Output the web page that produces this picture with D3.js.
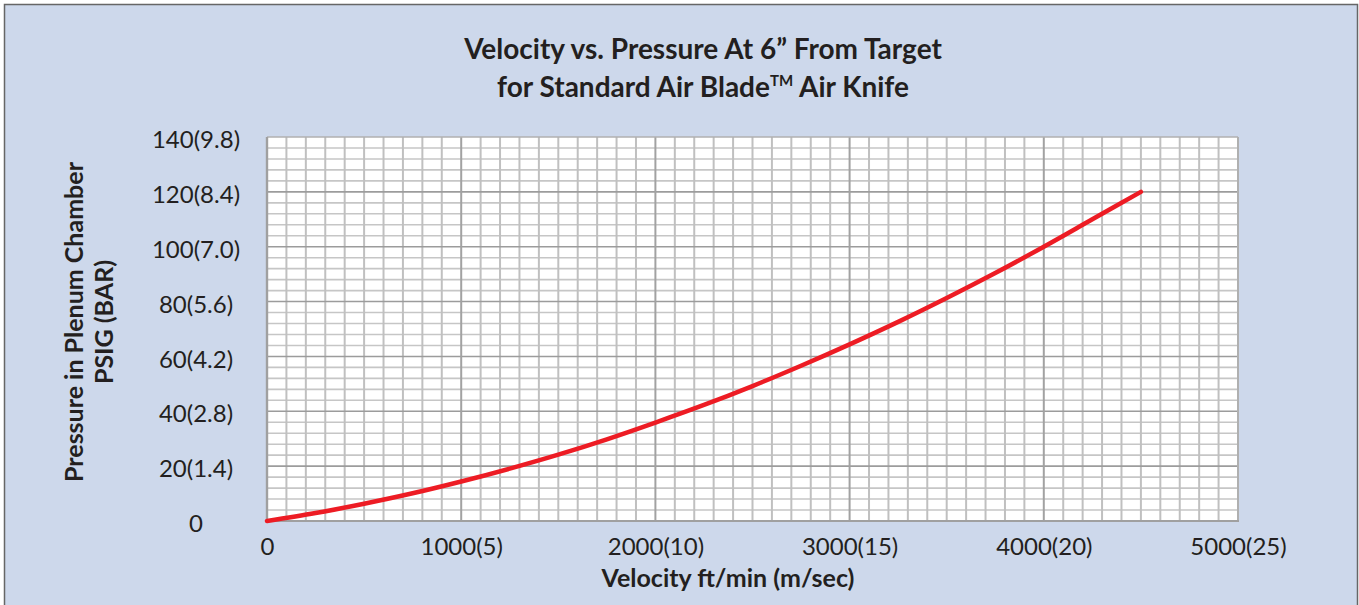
<!DOCTYPE html>
<html>
<head>
<meta charset="utf-8">
<script src="https://cdn.jsdelivr.net/npm/d3@7/dist/d3.min.js"></script>
<style>
  html, body { margin: 0; padding: 0; background: #ffffff; }
  svg { display: block; }
</style>
</head>
<body>
<svg id="chart" width="1359" height="605"></svg>
<script>
// ---- data ----
const velocity = [0, 250, 500, 750, 1000, 1250, 1500, 1750, 2000, 2250, 2500, 2750, 3000, 3250, 3500, 3750, 4000, 4250, 4500];
const pressure = [0, 2.9, 6.3, 10.1, 14.4, 19.1, 24.2, 29.8, 35.9, 42.3, 49.2, 56.6, 64.4, 72.6, 81.3, 90.4, 100, 110, 120];

const xTickValues = [0, 1000, 2000, 3000, 4000, 5000];
const xTickLabels = ["0", "1000(5)", "2000(10)", "3000(15)", "4000(20)", "5000(25)"];
const yTickValues = [0, 20, 40, 60, 80, 100, 120, 140];
const yTickLabels = ["0", "20(1.4)", "40(2.8)", "60(4.2)", "80(5.6)", "100(7.0)", "120(8.4)", "140(9.8)"];
const xMinorStep = 100;
const yMinorStep = 4;

const titleLine1 = "Velocity vs. Pressure At 6\u201D From Target";
const titleLine2a = "for Standard Air Blade";
const titleTM = "TM";
const titleLine2b = " Air Knife";
const xTitle = "Velocity ft/min (m/sec)";
const yTitle1 = "Pressure in Plenum Chamber";
const yTitle2 = "PSIG (BAR)";

// ---- layout ----
const W = 1359, H = 605;
const plot = { left: 267, right: 1238, top: 137, bottom: 521 };
const svg = d3.select("#chart");
const FONT = "Lato, 'Open Sans', sans-serif";
const TXT = "#231f20";

// background + frame
svg.append("rect").attr("x", 0).attr("y", 0).attr("width", W).attr("height", H).attr("fill", "#ffffff");
svg.append("rect").attr("x", 4.5).attr("y", 4.5).attr("width", 1353).attr("height", 610)
  .attr("fill", "#cdd8eb").attr("stroke", "#666666").attr("stroke-width", 1.5);

const x = d3.scaleLinear().domain([0, 5000]).range([plot.left, plot.right]);
const y = d3.scaleLinear().domain([0, 140]).range([plot.bottom, plot.top]);

// plot background
svg.append("rect").attr("x", plot.left).attr("y", plot.top)
  .attr("width", plot.right - plot.left).attr("height", plot.bottom - plot.top)
  .attr("fill", "#ffffff");

// minor grid
const xMinor = d3.range(0, 5000 + 1, xMinorStep).filter(v => v % 1000 !== 0);
const yMinor = d3.range(0, 140 + 1, yMinorStep).filter(v => v % 20 !== 0);
const grid = svg.append("g");
grid.selectAll("line.hmin").data(yMinor).join("line")
  .attr("x1", plot.left).attr("x2", plot.right)
  .attr("y1", d => y(d)).attr("y2", d => y(d))
  .attr("stroke", "#c6c6c6").attr("stroke-width", 1.6);
grid.selectAll("line.vmin").data(xMinor).join("line")
  .attr("y1", plot.top).attr("y2", plot.bottom)
  .attr("x1", d => x(d)).attr("x2", d => x(d))
  .attr("stroke", "#c0c0c0").attr("stroke-width", 2);
// major grid
grid.selectAll("line.hmaj").data(yTickValues.filter(v => v > 0 && v < 140)).join("line")
  .attr("x1", plot.left).attr("x2", plot.right)
  .attr("y1", d => y(d)).attr("y2", d => y(d))
  .attr("stroke", "#9c9c9c").attr("stroke-width", 1.6);
grid.selectAll("line.vmaj").data(xTickValues.filter(v => v > 0 && v < 5000)).join("line")
  .attr("y1", plot.top).attr("y2", plot.bottom)
  .attr("x1", d => x(d)).attr("x2", d => x(d))
  .attr("stroke", "#a2a2a2").attr("stroke-width", 2);

// plot border
svg.append("line").attr("x1", plot.left).attr("x2", plot.right).attr("y1", plot.top).attr("y2", plot.top)
  .attr("stroke", "#b0b0b0").attr("stroke-width", 1.5);
svg.append("line").attr("x1", plot.right).attr("x2", plot.right).attr("y1", plot.top).attr("y2", plot.bottom)
  .attr("stroke", "#b0b0b0").attr("stroke-width", 2);
svg.append("line").attr("x1", plot.left - 1).attr("x2", plot.right + 1).attr("y1", plot.bottom).attr("y2", plot.bottom)
  .attr("stroke", "#a0a0a0").attr("stroke-width", 2.2);
svg.append("line").attr("x1", plot.left).attr("x2", plot.left).attr("y1", plot.top).attr("y2", plot.bottom + 1)
  .attr("stroke", "#a0a0a0").attr("stroke-width", 2.4);

// axes (labels only)
const xAxis = d3.axisBottom(x).tickValues(xTickValues)
  .tickFormat((d, i) => xTickLabels[i]).tickSize(0).tickPadding(0);
const gx = svg.append("g").attr("transform", `translate(0,${plot.bottom})`).call(xAxis);
gx.select(".domain").remove();
gx.selectAll("text").attr("font-family", FONT).attr("font-size", 24).attr("fill", TXT)
  .attr("dy", null).attr("y", 34);

const yAxis = d3.axisLeft(y).tickValues(yTickValues)
  .tickFormat((d, i) => yTickLabels[i]).tickSize(0).tickPadding(0);
const gy = svg.append("g").attr("transform", `translate(${plot.left},0)`).call(yAxis);
gy.select(".domain").remove();
gy.selectAll("text").attr("font-family", FONT).attr("font-size", 24).attr("fill", TXT)
  .attr("text-anchor", "middle").attr("x", 196 - plot.left).attr("dy", "0.32em")
  .attr("transform", "translate(0,3)");

// curve
const pts = velocity.map((v, i) => [v, pressure[i]]);
const line = d3.line().x(d => x(d[0])).y(d => y(d[1])).curve(d3.curveMonotoneX);
svg.append("path").datum(pts).attr("d", line)
  .attr("fill", "none").attr("stroke", "#ed1c24").attr("stroke-width", 4.5)
  .attr("stroke-linecap", "round").attr("stroke-linejoin", "round");

// titles
svg.append("text").attr("x", 703).attr("y", 59).attr("text-anchor", "middle")
  .attr("font-family", FONT).attr("font-weight", "bold").attr("font-size", 28).attr("fill", TXT)
  .text(titleLine1);
const t2 = svg.append("text").attr("x", 703).attr("y", 97).attr("text-anchor", "middle")
  .attr("font-family", FONT).attr("font-weight", "bold").attr("font-size", 28).attr("fill", TXT);
t2.append("tspan").text(titleLine2a);
t2.append("tspan").attr("dy", -11).attr("font-size", 15).text(titleTM);
t2.append("tspan").attr("dy", 11).text(titleLine2b);

svg.append("text").attr("x", 728).attr("y", 587).attr("text-anchor", "middle")
  .attr("font-family", FONT).attr("font-weight", "bold").attr("font-size", 25).attr("fill", TXT)
  .text(xTitle);

svg.append("text").attr("transform", "translate(83,322) rotate(-90)").attr("text-anchor", "middle")
  .attr("font-family", FONT).attr("font-weight", "bold").attr("font-size", 25).attr("fill", TXT)
  .text(yTitle1);
svg.append("text").attr("transform", "translate(113,322) rotate(-90)").attr("text-anchor", "middle")
  .attr("font-family", FONT).attr("font-weight", "bold").attr("font-size", 25).attr("fill", TXT)
  .text(yTitle2);
</script>
</body>
</html>
